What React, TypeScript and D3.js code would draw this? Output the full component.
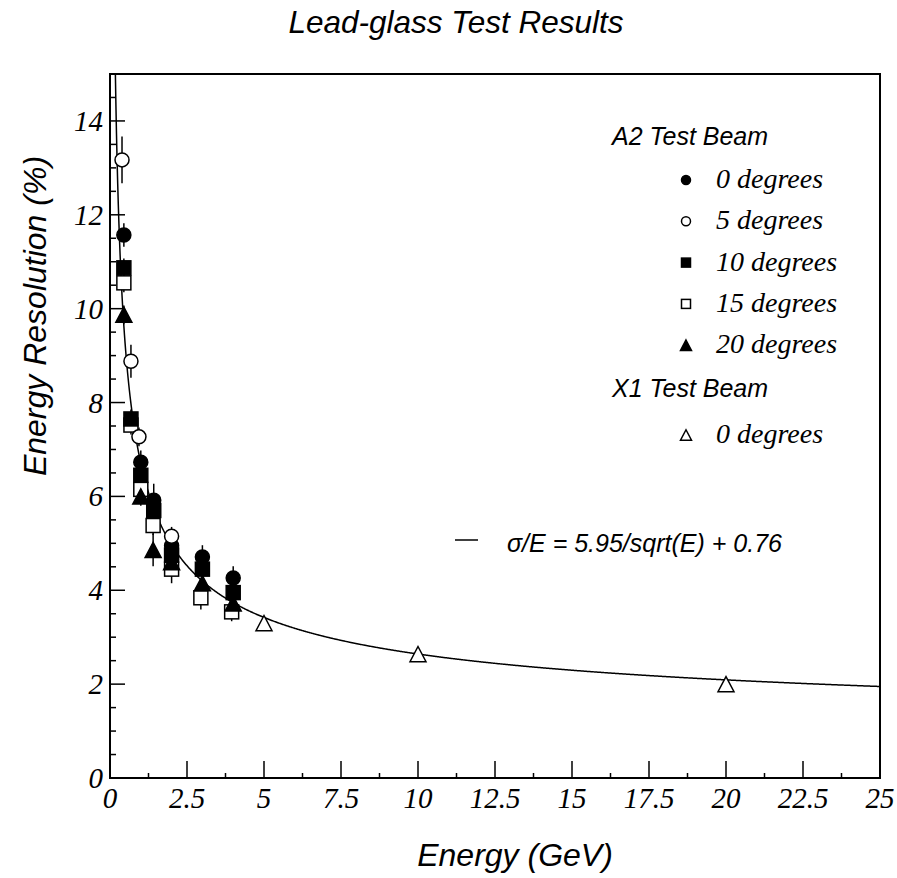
import React from "react";
import * as d3 from "d3";

// ---- data ----
const deg0E = [0.45, 1.0, 1.42, 2.0, 3.0, 4.0];
const deg0R = [11.57, 6.73, 5.92, 4.95, 4.71, 4.26];
const deg0Err = [0.25, 0.25, 0.35, 0.25, 0.25, 0.25];

const deg5E = [0.39, 0.68, 0.94, 2.0];
const deg5R = [13.17, 8.88, 7.27, 5.15];
const deg5Err = [0.5, 0.35, 0.2, 0.2];

const deg10E = [0.45, 0.68, 1.0, 1.42, 2.0, 3.0, 4.0];
const deg10R = [10.87, 7.65, 6.45, 5.7, 4.75, 4.45, 3.95];
const deg10Err = [0.2, 0.2, 0.2, 0.2, 0.2, 0.2, 0.2];

const deg15E = [0.45, 0.68, 1.0, 1.4, 2.0, 2.95, 3.95];
const deg15R = [10.55, 7.52, 6.15, 5.38, 4.45, 3.84, 3.54];
const deg15Err = [0.2, 0.2, 0.2, 0.2, 0.3, 0.25, 0.2];

const deg20E = [0.45, 1.0, 1.4, 2.0, 3.0, 4.0];
const deg20R = [9.87, 6.0, 4.86, 4.6, 4.15, 3.72];
const deg20Err = [0.2, 0.2, 0.35, 0.2, 0.2, 0.2];

const x1E = [5, 10, 20];
const x1R = [3.3, 2.64, 2.0];
const x1Err = [0.1, 0.1, 0.1];

const fitA = 5.95;
const fitB = 0.76;

const xTicks = [0, 2.5, 5, 7.5, 10, 12.5, 15, 17.5, 20, 22.5, 25];
const yTicks = [0, 2, 4, 6, 8, 10, 12, 14];

type Shape = "circle" | "square" | "triangle";
interface Series {
  name: string;
  E: number[];
  R: number[];
  err: number[];
  shape: Shape;
  filled: boolean;
}

const series: Series[] = [
  { name: "15 degrees", E: deg15E, R: deg15R, err: deg15Err, shape: "square", filled: false },
  { name: "20 degrees", E: deg20E, R: deg20R, err: deg20Err, shape: "triangle", filled: true },
  { name: "10 degrees", E: deg10E, R: deg10R, err: deg10Err, shape: "square", filled: true },
  { name: "0 degrees", E: deg0E, R: deg0R, err: deg0Err, shape: "circle", filled: true },
  { name: "5 degrees", E: deg5E, R: deg5R, err: deg5Err, shape: "circle", filled: false },
  { name: "X1 0 degrees", E: x1E, R: x1R, err: x1Err, shape: "triangle", filled: false },
];

const legendRows: { label: string; shape: Shape; filled: boolean }[] = [
  { label: "0 degrees", shape: "circle", filled: true },
  { label: "5 degrees", shape: "circle", filled: false },
  { label: "10 degrees", shape: "square", filled: true },
  { label: "15 degrees", shape: "square", filled: false },
  { label: "20 degrees", shape: "triangle", filled: true },
];

const W = 897;
const H = 878;
const L = 110, R = 880, T = 74, B = 778;

function Marker({ x, y, shape, filled, size }: { x: number; y: number; shape: Shape; filled: boolean; size: number }) {
  const fill = filled ? "#000" : "#fff";
  const sw = 1.5;
  if (shape === "circle") return <circle cx={x} cy={y} r={size / 2} fill={fill} stroke="#000" strokeWidth={sw} />;
  if (shape === "square")
    return <rect x={x - size / 2} y={y - size / 2} width={size} height={size} fill={fill} stroke="#000" strokeWidth={sw} />;
  const h = size * 0.95;
  const p = `M${x},${y - h / 2} L${x + size / 2},${y + h / 2} L${x - size / 2},${y + h / 2} Z`;
  return <path d={p} fill={fill} stroke="#000" strokeWidth={sw} strokeLinejoin="miter" />;
}

export default function App() {
  const x = d3.scaleLinear().domain([0, 25]).range([L, R]);
  const y = d3.scaleLinear().domain([0, 15]).range([B, T]);

  const fitPts = d3.range(0.15, 25.001, 0.02).map((e) => [e, fitA / Math.sqrt(e) + fitB] as [number, number]);
  const line = d3
    .line<[number, number]>()
    .x((d) => x(d[0]))
    .y((d) => y(d[1]))
    .curve(d3.curveLinear);

  const xMinor = d3.range(0, 25.001, 1.25);
  const yMinor = d3.range(0, 15.001, 0.5);

  const serif = "'Liberation Serif', 'Times New Roman', serif";
  const sans = "'Liberation Sans', Arial, Helvetica, sans-serif";

  return (
    <svg width={W} height={H} style={{ position: "absolute", left: 0, top: 0, background: "#fff" }}>
      <defs>
        <clipPath id="plotClip">
          <rect x={L} y={T} width={R - L} height={B - T} />
        </clipPath>
      </defs>
      <rect x={0} y={0} width={W} height={H} fill="#fff" />

      {/* title */}
      <text x={456} y={33} textAnchor="middle" fontFamily={sans} fontStyle="italic" fontSize={31.5} fill="#000">
        Lead-glass Test Results
      </text>

      {/* frame */}
      <rect x={L} y={T} width={R - L} height={B - T} fill="none" stroke="#000" strokeWidth={2} />

      {/* x ticks */}
      {xMinor.map((v, i) => {
        const major = i % 2 === 0;
        return (
          <line key={"xt" + i} x1={x(v)} x2={x(v)} y1={B} y2={B - (major ? 17 : 5)} stroke="#000" strokeWidth={1.5} />
        );
      })}
      {xTicks.map((v) => (
        <text key={"xl" + v} x={x(v)} y={808} textAnchor="middle" fontFamily={serif} fontStyle="italic" fontSize={29} fill="#000">
          {String(v)}
        </text>
      ))}

      {/* y ticks */}
      {yMinor.map((v, i) => {
        const major = i % 4 === 0;
        return (
          <line key={"yt" + i} x1={L} x2={L + (major ? 15 : 6)} y1={y(v)} y2={y(v)} stroke="#000" strokeWidth={1.5} />
        );
      })}
      {yTicks.map((v) => (
        <text key={"yl" + v} x={103} y={y(v) + 10} textAnchor="end" fontFamily={serif} fontStyle="italic" fontSize={29} fill="#000">
          {String(v)}
        </text>
      ))}

      {/* axis titles */}
      <text x={515} y={866} textAnchor="middle" fontFamily={sans} fontStyle="italic" fontSize={32} fill="#000">
        Energy (GeV)
      </text>
      <text
        transform={`translate(46,316) rotate(-90)`}
        textAnchor="middle"
        fontFamily={sans}
        fontStyle="italic"
        fontSize={32}
        fill="#000"
      >
        Energy Resolution (%)
      </text>

      {/* fit curve */}
      <path d={line(fitPts) || ""} fill="none" stroke="#000" strokeWidth={1.5} clipPath="url(#plotClip)" />

      {/* data */}
      <g clipPath="url(#plotClip)">
        {series.map((s) =>
          s.E.map((e, i) => (
            <line
              key={s.name + "e" + i}
              x1={x(e)}
              x2={x(e)}
              y1={y(s.R[i] - s.err[i])}
              y2={y(s.R[i] + s.err[i])}
              stroke="#000"
              strokeWidth={1.5}
            />
          ))
        )}
        {series.map((s) =>
          s.E.map((e, i) => (
            <Marker key={s.name + "m" + i} x={x(e)} y={y(s.R[i])} shape={s.shape} filled={s.filled} size={s.shape === "triangle" ? 16 : 14} />
          ))
        )}
      </g>

      {/* legend */}
      <text x={612} y={145} fontFamily={sans} fontStyle="italic" fontSize={25} fill="#000">
        A2 Test Beam
      </text>
      {legendRows.map((r, i) => (
        <g key={"lg" + i}>
          <Marker x={686} y={180 + i * 41.3} shape={r.shape} filled={r.filled} size={r.shape === "triangle" ? 11 : 9} />
          <text x={716} y={188 + i * 41.3} fontFamily={serif} fontStyle="italic" fontSize={28} fill="#000">
            {r.label}
          </text>
        </g>
      ))}
      <text x={612} y={397} fontFamily={sans} fontStyle="italic" fontSize={25} fill="#000">
        X1 Test Beam
      </text>
      <Marker x={686} y={435} shape="triangle" filled={false} size={11} />
      <text x={716} y={443} fontFamily={serif} fontStyle="italic" fontSize={28} fill="#000">
        0 degrees
      </text>

      {/* fit legend */}
      <line x1={455} x2={478} y1={540} y2={540} stroke="#000" strokeWidth={1.5} />
      <text x={507} y={552} fontFamily={sans} fontStyle="italic" fontSize={25} fill="#000">
        σ/E = 5.95/sqrt(E) + 0.76
      </text>
    </svg>
  );
}
